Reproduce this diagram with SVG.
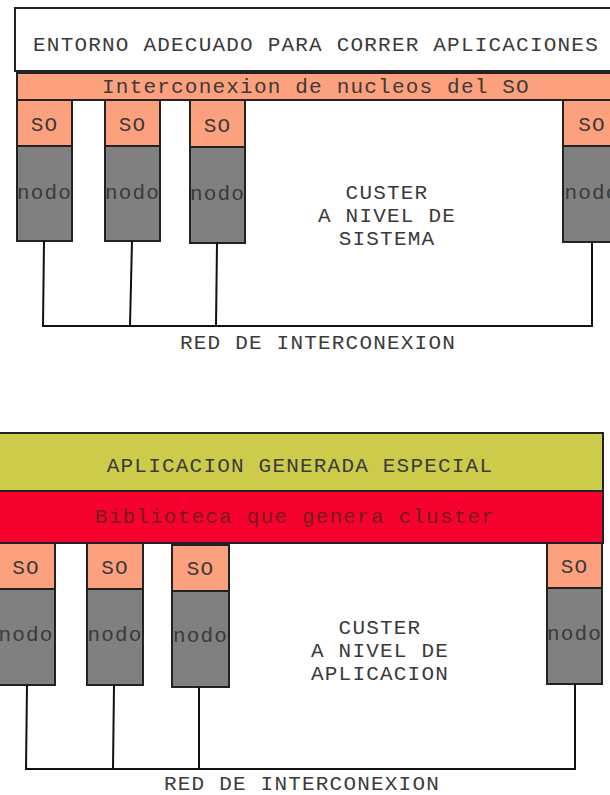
<svg xmlns="http://www.w3.org/2000/svg" width="610" height="795" viewBox="0 0 610 795">
<style>
.t{font-family:"Liberation Mono","Courier New",monospace;font-size:21px;letter-spacing:1.2px;fill:#3a3a3a;text-anchor:middle}
.box{stroke:#222;stroke-width:2}
.so{fill:#FCA07E;stroke:#222;stroke-width:2}
.nodo{fill:#808080;stroke:#222;stroke-width:2}
.ln{stroke:#111;stroke-width:2;fill:none}
</style>
<rect width="610" height="795" fill="#fff"/>
<g id="top-entorno">
<rect class="box" x="15" y="8" width="610" height="63" fill="#fff"/>
<text class="t" x="316" y="51">ENTORNO ADECUADO PARA CORRER APLICACIONES</text>
</g>
<g id="top-interconexion">
<rect class="box" x="17" y="73" width="610" height="27" fill="#FCA07E"/>
<text class="t" x="316" y="93">Interconexion de nucleos del SO</text>
</g>
<g id="top-node1">
<rect class="so" x="17" y="100" width="55" height="46"/>
<rect class="nodo" x="17" y="146" width="55" height="95"/>
<text class="t" x="44.5" y="131">SO</text>
<text class="t" x="44.5" y="199">nodo</text>
</g>
<g id="top-node2">
<rect class="so" x="105" y="100" width="55" height="46"/>
<rect class="nodo" x="105" y="146" width="55" height="95"/>
<text class="t" x="132.5" y="131">SO</text>
<text class="t" x="132.5" y="199">nodo</text>
</g>
<g id="top-node3">
<rect class="so" x="190" y="100" width="55" height="47"/>
<rect class="nodo" x="190" y="147" width="55" height="96"/>
<text class="t" x="217.5" y="132">SO</text>
<text class="t" x="217.5" y="200">nodo</text>
</g>
<g id="top-node4">
<rect class="so" x="563" y="100" width="60" height="46"/>
<rect class="nodo" x="563" y="146" width="60" height="96"/>
<text class="t" x="592" y="131">SO</text>
<text class="t" x="592" y="199">nodo</text>
</g>
<g id="top-label">
<text class="t" x="387" y="199">CUSTER</text>
<text class="t" x="387" y="222">A NIVEL DE</text>
<text class="t" x="387" y="245">SISTEMA</text>
</g>
<g id="top-connectors">
<path class="ln" d="M44 241 L43 326 L592 326 L592 242"/>
<path class="ln" d="M132 241 L130 326"/>
<path class="ln" d="M217 243 L216 326"/>
</g>
<g id="top-red">
<text class="t" x="318" y="349">RED DE INTERCONEXION</text>
</g>

<g id="bot-aplicacion">
<rect class="box" x="-2" y="433" width="605" height="58" fill="#CDCB4A"/>
<text class="t" x="300" y="472">APLICACION GENERADA ESPECIAL</text>
</g>
<g id="bot-biblioteca">
<rect class="box" x="-2" y="491" width="605" height="52" fill="#F5022F"/>
<text class="t" x="295" y="523" style="fill:#7a1a1a">Biblioteca que genera cluster</text>
</g>
<g id="bot-node1">
<rect class="so" x="-2" y="543" width="57" height="46"/>
<rect class="nodo" x="-2" y="589" width="57" height="96"/>
<text class="t" x="26" y="574">SO</text>
<text class="t" x="26" y="641">nodo</text>
</g>
<g id="bot-node2">
<rect class="so" x="87" y="543" width="56" height="46"/>
<rect class="nodo" x="87" y="589" width="56" height="96"/>
<text class="t" x="115" y="574">SO</text>
<text class="t" x="115" y="641">nodo</text>
</g>
<g id="bot-node3">
<rect class="so" x="172" y="545" width="57" height="46"/>
<rect class="nodo" x="172" y="591" width="57" height="96"/>
<text class="t" x="200.5" y="575">SO</text>
<text class="t" x="200.5" y="642">nodo</text>
</g>
<g id="bot-node4">
<rect class="so" x="547" y="543" width="55" height="45"/>
<rect class="nodo" x="547" y="588" width="55" height="96"/>
<text class="t" x="574.5" y="573">SO</text>
<text class="t" x="574.5" y="640">nodo</text>
</g>
<g id="bot-label">
<text class="t" x="380" y="634">CUSTER</text>
<text class="t" x="380" y="657">A NIVEL DE</text>
<text class="t" x="380" y="680">APLICACION</text>
</g>
<g id="bot-connectors">
<path class="ln" d="M27 685 L26 769 L575 769 L575 684"/>
<path class="ln" d="M114 685 L113 769"/>
<path class="ln" d="M199 687 L199 769"/>
</g>
<g id="bot-red">
<text class="t" x="302" y="790">RED DE INTERCONEXION</text>
</g>
</svg>
